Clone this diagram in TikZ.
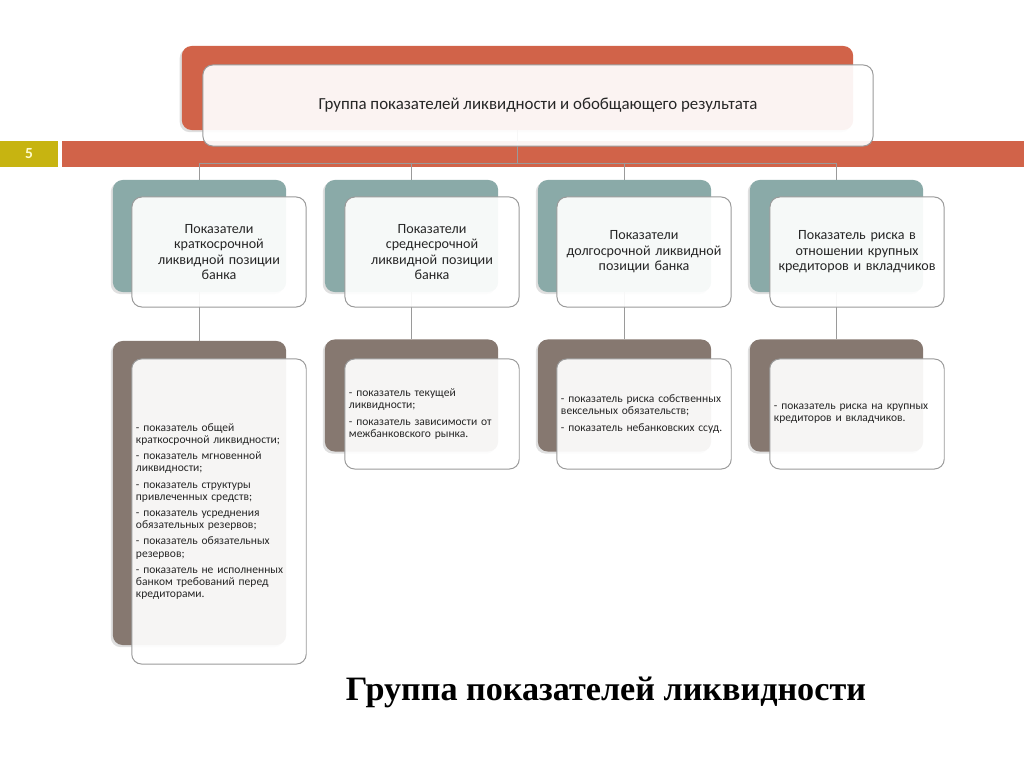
\documentclass[tikz,border=0pt]{standalone}
\usepackage{fontspec}
\setmainfont{Carlito}
\newfontfamily\titlefont{Liberation Serif}
\usetikzlibrary{backgrounds,shadows}

\definecolor{bandred}{HTML}{D16349}
\definecolor{numgold}{HTML}{C7B411}
\definecolor{backteal}{HTML}{8AAAA8}
\definecolor{backbrown}{HTML}{867870}
\definecolor{edgegray}{HTML}{9A9A9A}
\definecolor{textdark}{HTML}{262626}

\begin{document}
\begin{tikzpicture}[x=0.025cm, y=-0.025cm,
  back/.style={rounded corners=7pt, minimum width=4.33cm, minimum height=2.8cm,
    drop shadow={shadow xshift=-1.5pt, shadow yshift=-1.5pt, opacity=.25}},
  front/.style={draw=edgegray, line width=0.7pt, fill=white, fill opacity=0.93,
    text opacity=1, text=textdark, rounded corners=7pt,
    minimum width=4.35cm, minimum height=2.75cm},
  head/.style={front, text width=4.1cm, align=center,
    font=\fontsize{10}{11.1}\selectfont},
  list/.style={front, text width=4.15cm, align=left, inner xsep=3pt,
    font=\fontsize{8.2}{8.6}\selectfont},
  conn/.style={draw=edgegray, line width=0.6pt}]
  \useasboundingbox (0,0) rectangle (1024,767);

  % top block
  \node[back, fill=bandred, minimum width=16.78cm, minimum height=2.1cm] (tb) at (517.5,88) {};
  \node[front, minimum width=16.75cm, minimum height=2.025cm,
    font=\fontsize{12}{14}\selectfont] (top) at (538,105.5)
    {Группа показателей ликвидности и обобщающего результата};
  \node[fill=numgold, minimum width=1.45cm, minimum height=0.65cm, inner sep=0pt,
    text=white!80!yellow, font=\bfseries\fontsize{11}{13}\selectfont] (pagenum) at (29,154) {5};

  % second row
  \node[back, fill=backteal] (b1) at (199.5,236) {};
  \node[back, fill=backteal] (b2) at (411.5,236) {};
  \node[back, fill=backteal] (b3) at (624.5,236) {};
  \node[back, fill=backteal] (b4) at (836.5,236) {};
  \node[head] (f1) at (219,252) {Показатели\\ краткосрочной\\ ликвидной позиции\\ банка};
  \node[head] (f2) at (432,252) {Показатели\\ среднесрочной\\ ликвидной позиции\\ банка};
  \node[head] (f3) at (644,252) {Показатели\\ долгосрочной ликвидной\\ позиции банка};
  \node[head] (f4) at (857,252) {Показатель риска в\\ отношении крупных\\ кредиторов и вкладчиков};

  % third row
  \node[back, fill=backbrown, minimum height=7.6cm] (c1) at (199.5,493) {};
  \node[back, fill=backbrown] (c2) at (411.5,395.5) {};
  \node[back, fill=backbrown] (c3) at (624.5,395.5) {};
  \node[back, fill=backbrown] (c4) at (836.5,395.5) {};
  \node[list, minimum height=7.625cm] (g1) at (219,511.5)
    {- показатель общей\\ краткосрочной ликвидности;\\[3pt]
     - показатель мгновенной\\ ликвидности;\\[3pt]
     - показатель структуры\\ привлеченных средств;\\[3pt]
     - показатель усреднения\\ обязательных резервов;\\[3pt]
     - показатель обязательных\\ резервов;\\[3pt]
     - показатель не исполненных\\ банком требований перед\\ кредиторами.};
  \node[list] (g2) at (432,414)
    {- показатель текущей\\ ликвидности;\\[3pt]
     - показатель зависимости от\\ межбанковского рынка.};
  \node[list] (g3) at (644,414)
    {- показатель риска собственных\\ вексельных обязательств;\\[3pt]
     - показатель небанковских ссуд.};
  \node[list] (g4) at (857,414)
    {- показатель риска на крупных\\ кредиторов и вкладчиков.};

  \node[font=\titlefont\bfseries\fontsize{24.3}{28}\selectfont, text=black] (title) at (606,692)
    {Группа показателей ликвидности};

  \begin{scope}[on background layer]
    \fill[bandred] (62,141) rectangle (1024,167);
    \draw[conn] (tb.south) -- ++(0,33) coordinate (split);
    \draw[conn] (split) -| (b1.north);
    \draw[conn] (split) -| (b2.north);
    \draw[conn] (split) -| (b3.north);
    \draw[conn] (split) -| (b4.north);
    \draw[conn] (b1.south) -- (c1.north);
    \draw[conn] (b2.south) -- (c2.north);
    \draw[conn] (b3.south) -- (c3.north);
    \draw[conn] (b4.south) -- (c4.north);
  \end{scope}
\end{tikzpicture}
\end{document}
